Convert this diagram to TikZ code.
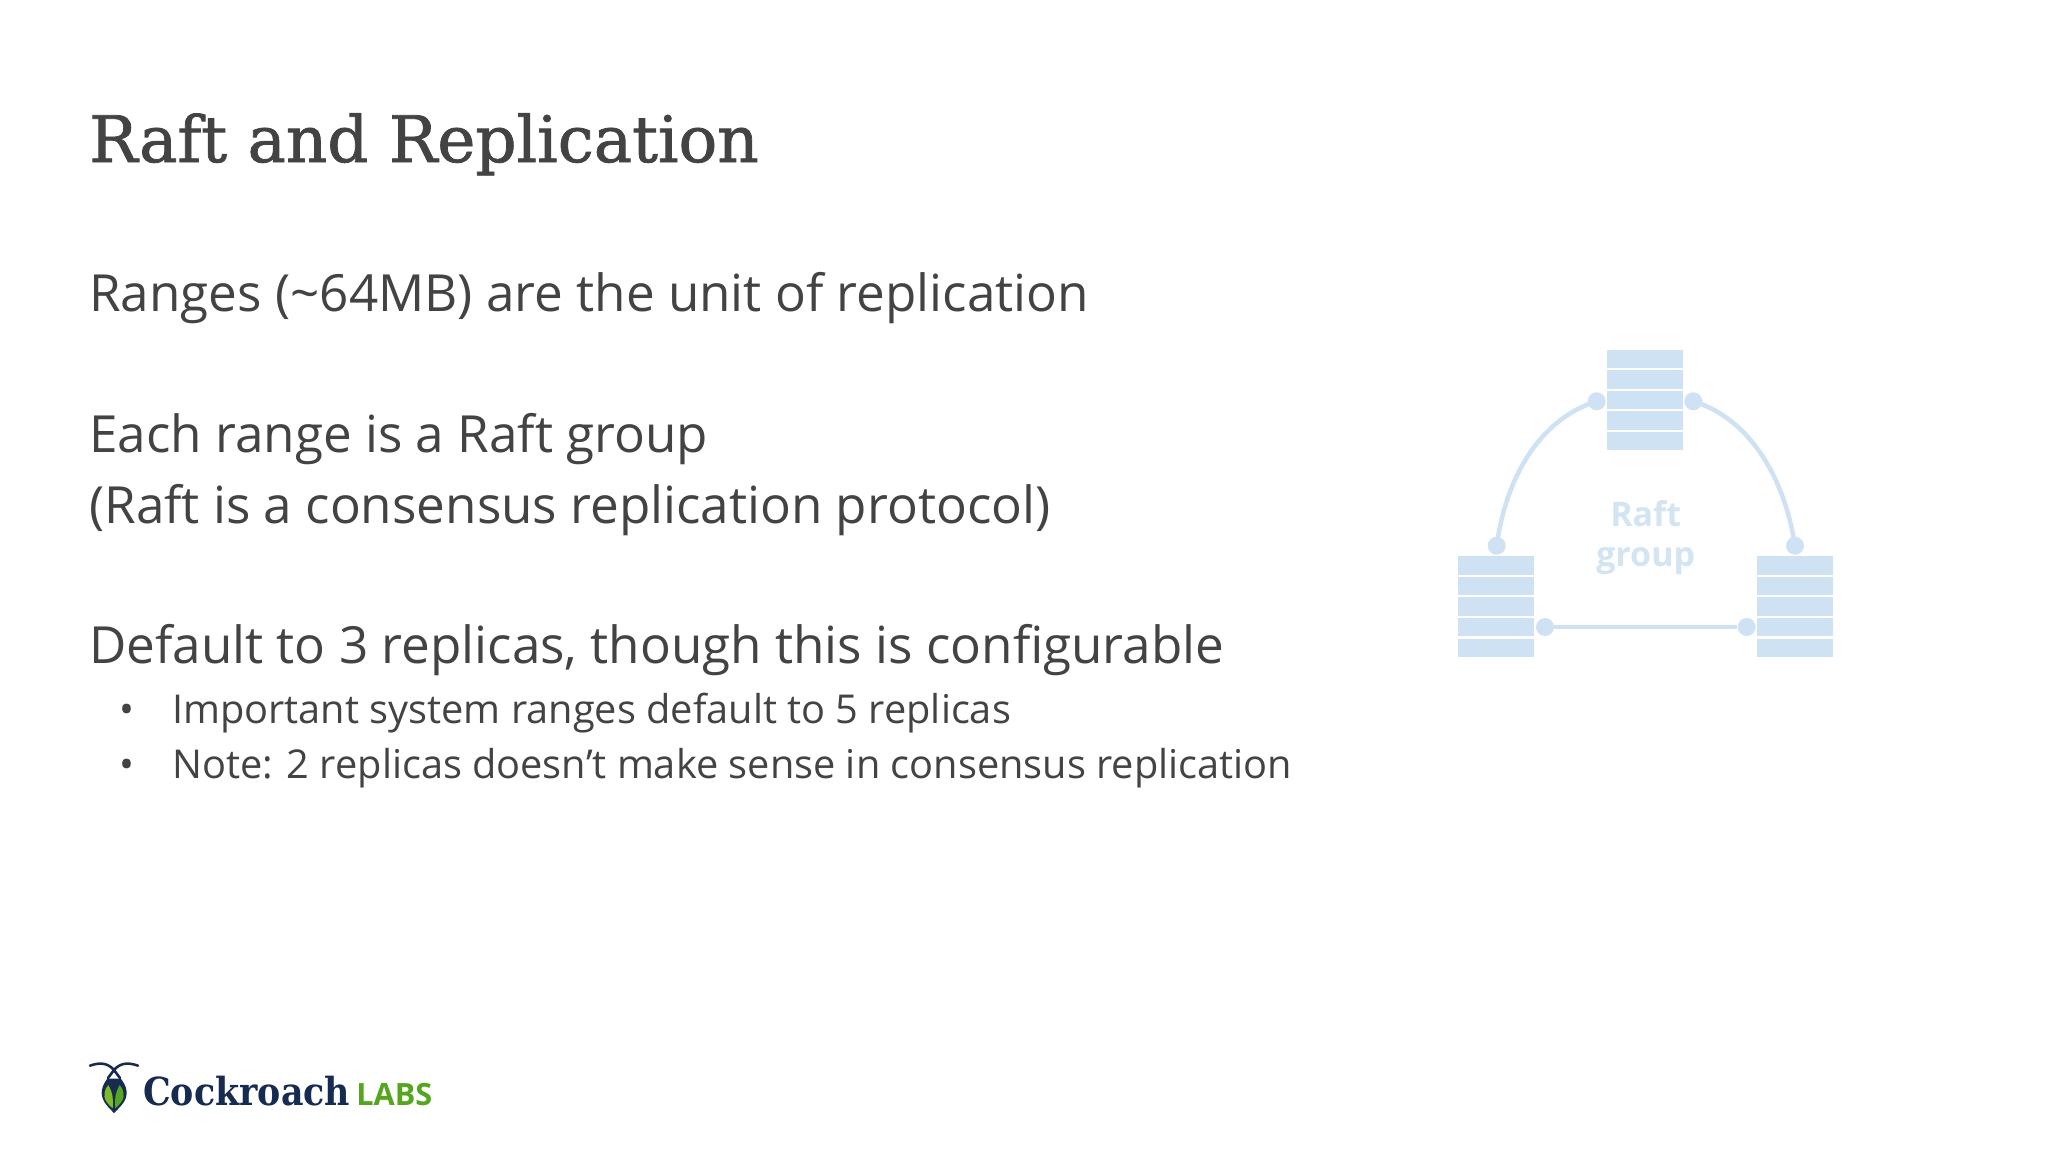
\documentclass[tikz,border=0pt]{standalone}
\usepackage{fontspec}
\setmainfont{Open Sans}
\newfontfamily\slabfont[FakeStretch=0.9]{DejaVu Serif}
\newfontfamily\headfont[FakeStretch=1.005,FakeBold=1.2]{DejaVu Serif}
\definecolor{slidegray}{HTML}{434343}
\definecolor{raftblue}{HTML}{CFE2F3}
\definecolor{raftlabel}{HTML}{D3E4F3}
\definecolor{roachnavy}{HTML}{172A4F}
\definecolor{roachgreen}{HTML}{55A61E}
\definecolor{roachlime}{HTML}{7DBB2A}
\tikzset{
  slidetext/.style={anchor=base west, inner sep=0pt, text=slidegray, font=\fontsize{38.4}{38.4}\selectfont},
  subtext/.style={anchor=base west, inner sep=0pt, text=slidegray, font=\fontsize{29.8}{29.8}\selectfont},
  titletext/.style={anchor=base west, inner sep=0pt, text=slidegray, font=\fontsize{48}{48}\headfont},
  rowbox/.style={shape=rectangle, fill=raftblue, minimum width=57pt, minimum height=14.2pt, inner sep=0pt},
  raftdot/.style={shape=circle, fill=raftblue, minimum size=13.5pt, inner sep=0pt},
  raftlink/.style={-, line width=3.4pt, draw=raftblue},
  grouptext/.style={anchor=base, inner sep=0pt, text=raftlabel, font=\fontsize{25.5}{25.5}\selectfont\bfseries},
}
\begin{document}
\begin{tikzpicture}[x=0.75pt, y=-0.75pt]
\useasboundingbox (0,0) rectangle (2048,1152);
\fill[white] (0,0) rectangle (2048,1152);
% slide text
\node[titletext] (title) at (89,162) {Raft and Replication};
\node[slidetext] (ranges) at (89,311) {Ranges (\char"007E 64MB) are the unit of replication};
\node[slidetext] (group) at (89,452) {Each range is a Raft group};
\node[slidetext] (protocol) at (89,523) {(Raft is a consensus replication protocol)};
\node[slidetext] (default) at (89,663) {Default to 3 replicas, though this is configurable};
\node[subtext] (bulletA) at (119,723) {•};
\node[subtext] (important) at (172,723) {Important system ranges default to 5 replicas};
\node[subtext] (bulletB) at (119,778) {•};
\node[subtext] (note) at (172,778) {Note: 2 replicas doesn’t make sense in consensus replication};
% top replica
\node[rowbox] (top1) at (1645,359) {};
\node[rowbox] (top2) at (1645,379.5) {};
\node[rowbox] (top3) at (1645,400) {};
\node[rowbox] (top4) at (1645,420.5) {};
\node[rowbox] (top5) at (1645,441) {};
% left replica
\node[rowbox] (left1) at (1496.3,565.5) {};
\node[rowbox] (left2) at (1496.3,586) {};
\node[rowbox] (left3) at (1496.3,606.5) {};
\node[rowbox] (left4) at (1496.3,627) {};
\node[rowbox] (left5) at (1496.3,648) {};
% right replica
\node[rowbox] (right1) at (1795.3,565.5) {};
\node[rowbox] (right2) at (1795.3,586) {};
\node[rowbox] (right3) at (1795.3,606.5) {};
\node[rowbox] (right4) at (1795.3,627) {};
\node[rowbox] (right5) at (1795.3,648) {};
% links
\node[raftdot] (topL) at (1596.7,401.3) {};
\node[raftdot] (topR) at (1693.3,401.3) {};
\node[raftdot] (leftU) at (1496.7,545.7) {};
\node[raftdot] (rightU) at (1795,545.7) {};
\node[raftdot] (leftR) at (1545,627) {};
\node[raftdot] (rightL) at (1746.7,627) {};
\draw[raftlink] (topL.center) .. controls (1545,417) and (1507,470) .. (leftU.center);
\draw[raftlink] (topR.center) .. controls (1745,417) and (1783,470) .. (rightU.center);
\path[raftlink] (leftR) edge (rightL);
\node[grouptext] (raft) at (1645.7,526) {Raft};
\node[grouptext] (grp) at (1645.7,566) {group};
% logo
\fill[roachnavy] (114,1070) .. controls (108,1078) and (101.7,1084) .. (101.7,1093) .. controls (101.7,1101) and (108,1107) .. (114,1113) .. controls (120,1107) and (126.7,1101) .. (126.7,1093) .. controls (126.7,1084) and (120,1078) .. (114,1070) -- cycle;
\fill[white] (114,1072) -- (109,1078.5) -- (119,1078.5) -- cycle;
\draw[line width=1.9pt, draw=roachnavy, line cap=round] (90,1065.7) .. controls (100,1062) and (108,1063) .. (114,1070) -- (120,1078);
\draw[line width=1.9pt, draw=roachnavy, line cap=round] (138,1065.7) .. controls (128,1062) and (120,1063) .. (114,1070) -- (108,1078);
\fill[roachlime] (108.3,1085) .. controls (104,1089) and (103.5,1097) .. (105.5,1100) .. controls (107,1103) and (110,1106) .. (112.7,1108.3) .. controls (113.5,1100) and (113,1093) .. (108.3,1085) -- cycle;
\fill[roachgreen] (119.7,1085) .. controls (124,1089) and (124.5,1097) .. (122.5,1100) .. controls (121,1103) and (118,1106) .. (115.3,1108.3) .. controls (114.5,1100) and (115,1093) .. (119.7,1085) -- cycle;
\node[anchor=base west, inner sep=0pt, text=roachnavy, font=\fontsize{29}{29}\slabfont\bfseries] (cockroach) at (143,1105) {Cockroach};
\node[anchor=base west, inner sep=0pt, text=roachgreen, font=\fontsize{23}{23}\selectfont\bfseries] (labs) at (356,1105) {LABS};
\end{tikzpicture}
\end{document}
